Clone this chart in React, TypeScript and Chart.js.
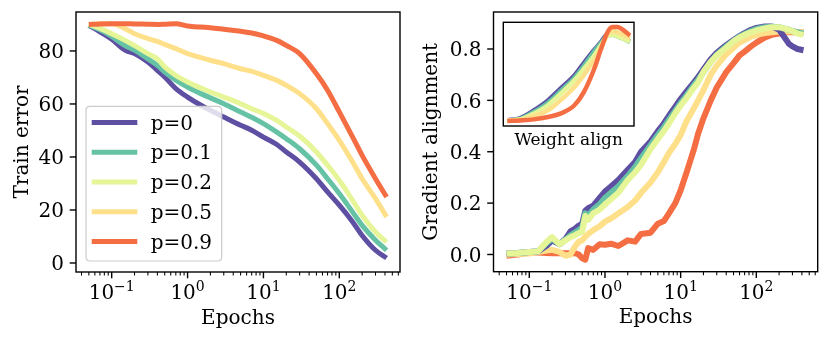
import React, { useEffect, useRef } from "react";
import { Chart, registerables } from "chart.js";

Chart.register(...registerables);

const FONT = "'DejaVu Serif', 'Liberation Serif', serif";
const FS = 20;
const CAPTION_FS = 17;

// ---------- series meta ----------
const seriesLabels = ["p=0", "p=0.1", "p=0.2", "p=0.5", "p=0.9"];
const seriesColors = ["#5e4fa2", "#66c2a5", "#e6f598", "#fee08b", "#f46d43"];

// ---------- left panel: train error ----------
const trainEpochs = [0.05, 0.07, 0.1, 0.15, 0.2, 0.3, 0.4, 0.5, 0.7, 1, 1.5, 2, 3, 5, 7, 10, 15, 20, 30, 50, 70, 100, 150, 200, 300, 420];
const trainP0 = [89.7, 87.2, 84.4, 80.3, 79, 75.8, 72.7, 70.2, 65.8, 62.6, 59.5, 57.6, 55.1, 52, 50.1, 47.5, 44.7, 41.9, 38.1, 31.8, 26.8, 21.8, 15.5, 10.4, 4.8, 1.9];
const trainP01 = [89.7, 88, 85.5, 82, 80.3, 77, 74.6, 72, 69, 66.4, 63.9, 62.3, 60.1, 57, 55, 52.6, 49.4, 46.9, 43.1, 36.9, 31.8, 26.2, 19.2, 14.2, 8.6, 4.8];
const trainP02 = [90, 88.5, 86.5, 84, 82, 79, 77, 74, 70.8, 68.3, 66, 64.5, 62.6, 60.1, 58.2, 56.4, 53.8, 51.3, 47.9, 41.9, 36.9, 31.2, 23.6, 18, 11.7, 7.9];
const trainP05 = [90, 90.3, 90.3, 88.4, 86.5, 84.7, 83.6, 82.5, 80.9, 79, 77.5, 76.5, 75.2, 73.3, 72.3, 70.8, 68.9, 67, 63.9, 58.2, 52.6, 46.3, 38.1, 31.8, 24.3, 17.4];
const trainP09 = [90, 90.2, 90.3, 90.3, 90.2, 90.1, 90, 90.1, 90.3, 89.4, 89, 88.8, 88.2, 87.4, 86.8, 85.7, 84, 82.1, 79, 71.4, 65.2, 57, 47.5, 40.6, 31.8, 24.9];
const trainSeries = [trainP0, trainP01, trainP02, trainP05, trainP09];
const trainYTicks = [0, 20, 40, 60, 80];
const trainYTickLabels = ["0", "20", "40", "60", "80"];

// ---------- right panel: gradient alignment ----------
const alignEpochs = [0.05, 0.07, 0.1, 0.13, 0.17, 0.2, 0.25, 0.3, 0.35, 0.4, 0.45, 0.5, 0.55, 0.6, 0.7, 0.85, 1, 1.2, 1.5, 2, 2.5, 3, 4, 5, 6, 7, 8.5, 10, 12, 15, 17, 20, 25, 30, 40, 50, 60, 70, 85, 100, 130, 160, 200, 230, 270, 300, 350, 420];
const alignP0 = [0.004, 0.006, 0.01, 0.012, 0.035, 0.055, 0.04, 0.06, 0.09, 0.1, 0.112, 0.12, 0.17, 0.18, 0.19, 0.22, 0.245, 0.265, 0.29, 0.33, 0.36, 0.4, 0.44, 0.48, 0.51, 0.54, 0.575, 0.605, 0.635, 0.67, 0.69, 0.72, 0.76, 0.785, 0.815, 0.835, 0.85, 0.862, 0.875, 0.882, 0.888, 0.888, 0.875, 0.85, 0.82, 0.81, 0.8, 0.795];
const alignP01 = [0.004, 0.006, 0.01, 0.012, 0.045, 0.062, 0.04, 0.057, 0.075, 0.085, 0.095, 0.105, 0.16, 0.15, 0.175, 0.195, 0.22, 0.24, 0.265, 0.305, 0.34, 0.375, 0.425, 0.465, 0.495, 0.525, 0.56, 0.59, 0.62, 0.66, 0.68, 0.71, 0.75, 0.778, 0.81, 0.832, 0.848, 0.858, 0.87, 0.878, 0.885, 0.887, 0.885, 0.88, 0.875, 0.87, 0.865, 0.86];
const alignP02 = [0.004, 0.006, 0.01, 0.012, 0.05, 0.068, 0.04, 0.055, 0.067, 0.075, 0.083, 0.09, 0.15, 0.135, 0.16, 0.175, 0.195, 0.215, 0.24, 0.29, 0.32, 0.35, 0.41, 0.45, 0.48, 0.51, 0.55, 0.58, 0.61, 0.65, 0.67, 0.71, 0.75, 0.775, 0.805, 0.83, 0.845, 0.855, 0.865, 0.872, 0.88, 0.885, 0.885, 0.88, 0.875, 0.87, 0.86, 0.855];
const alignP05 = [0.0, 0.002, 0.004, 0.01, 0.015, 0.018, 0.01, -0.005, 0.0, 0.03, 0.05, 0.055, 0.07, 0.08, 0.095, 0.11, 0.128, 0.14, 0.16, 0.185, 0.21, 0.24, 0.28, 0.32, 0.36, 0.395, 0.43, 0.465, 0.52, 0.57, 0.6, 0.64, 0.7, 0.735, 0.78, 0.805, 0.825, 0.835, 0.848, 0.855, 0.862, 0.865, 0.868, 0.868, 0.868, 0.868, 0.866, 0.865];
const alignP09 = [-0.005, 0.0, 0.008, 0.008, 0.006, 0.005, 0.006, 0.005, 0.005, 0.006, 0.0, -0.015, -0.02, 0.025, 0.018, 0.04, 0.038, 0.042, 0.033, 0.055, 0.05, 0.08, 0.085, 0.12, 0.13, 0.16, 0.2, 0.25, 0.32, 0.41, 0.47, 0.53, 0.6, 0.65, 0.71, 0.745, 0.775, 0.79, 0.81, 0.825, 0.845, 0.855, 0.86, 0.865, 0.865, 0.865, 0.865, 0.865];
const alignSeries = [alignP0, alignP01, alignP02, alignP05, alignP09];
const alignYTicks = [0, 0.2, 0.4, 0.6, 0.8];
const alignYTickLabels = ["0.0", "0.2", "0.4", "0.6", "0.8"];

// ---------- inset: weight alignment ----------
const insetEpochs = [0.05, 0.13, 0.35, 1, 2.5, 7, 14, 30, 50, 80, 115, 165, 270, 420];
const insetP0 = [0.054, 0.077, 0.15, 0.247, 0.36, 0.487, 0.607, 0.733, 0.81, 0.885, 0.885, 0.87, 0.845, 0.815];
const insetP01 = [0.054, 0.07, 0.135, 0.225, 0.335, 0.465, 0.58, 0.72, 0.8, 0.875, 0.88, 0.865, 0.84, 0.81];
const insetP02 = [0.054, 0.064, 0.119, 0.2, 0.31, 0.44, 0.55, 0.68, 0.78, 0.87, 0.88, 0.865, 0.84, 0.812];
const insetP05 = [0.054, 0.06, 0.096, 0.15, 0.247, 0.375, 0.49, 0.635, 0.75, 0.888, 0.915, 0.905, 0.875, 0.845];
const insetP09 = [0.048, 0.054, 0.064, 0.087, 0.119, 0.2, 0.327, 0.55, 0.744, 0.904, 0.955, 0.955, 0.92, 0.872];
const insetSeries = [insetP0, insetP01, insetP02, insetP05, insetP09];

// ---------- axis tick labels ----------
const xMajorValues = [0.1, 1, 10, 100];
const xMajorExponents = ["\u22121", "0", "1", "2"];
const xMinorMultipliers = [2, 3, 4, 5, 6, 7, 8, 9];
const xDecades = [0.01, 0.1, 1, 10, 100];

function roundRectPath(ctx: CanvasRenderingContext2D, x: number, y: number, w: number, h: number, r: number) {
  ctx.beginPath();
  ctx.moveTo(x + r, y);
  ctx.lineTo(x + w - r, y);
  ctx.quadraticCurveTo(x + w, y, x + w, y + r);
  ctx.lineTo(x + w, y + h - r);
  ctx.quadraticCurveTo(x + w, y + h, x + w - r, y + h);
  ctx.lineTo(x + r, y + h);
  ctx.quadraticCurveTo(x, y + h, x, y + h - r);
  ctx.lineTo(x, y + r);
  ctx.quadraticCurveTo(x, y, x + r, y);
  ctx.closePath();
}

const decorPlugin = {
  id: "decor",
  afterDraw(chart: any, _args: any, opts: any) {
    const ctx: CanvasRenderingContext2D = chart.ctx;
    const { left, top, right, bottom } = chart.chartArea;
    const xs = chart.scales.x;
    const ys = chart.scales.y;
    ctx.save();

    if (opts.legend) {
      const lx = left + 10;
      const ly = top + 94.3;
      const lw = 135.7;
      const lh = 154.7;
      roundRectPath(ctx, lx, ly, lw, lh, 4);
      ctx.fillStyle = "rgba(255,255,255,0.8)";
      ctx.fill();
      ctx.strokeStyle = "#cccccc";
      ctx.lineWidth = 1.2;
      ctx.stroke();
      ctx.font = `${FS}px ${FONT}`;
      ctx.textAlign = "left";
      ctx.textBaseline = "alphabetic";
      chart.data.datasets.forEach((ds: any, i: number) => {
        const ry = ly + 16.3 + i * 29.75;
        ctx.strokeStyle = ds.borderColor;
        ctx.lineWidth = 5;
        ctx.lineCap = "butt";
        ctx.beginPath();
        ctx.moveTo(lx + 5.7, ry);
        ctx.lineTo(lx + 51.3, ry);
        ctx.stroke();
        ctx.fillStyle = "#000";
        ctx.fillText(ds.label, lx + 64.7, ry + 7);
      });
    }

    ctx.strokeStyle = "#000";
    ctx.lineWidth = 1.4;
    ctx.strokeRect(left, top, right - left, bottom - top);

    if (opts.ticks) {
      ctx.lineCap = "butt";
      xDecades.forEach((d) => {
        [1, ...xMinorMultipliers].forEach((m) => {
          const v = m * d;
          if (v < xs.min || v > xs.max) return;
          const px = xs.getPixelForValue(v);
          const major = m === 1;
          ctx.lineWidth = major ? 1.4 : 1.05;
          ctx.beginPath();
          ctx.moveTo(px, bottom);
          ctx.lineTo(px, bottom + (major ? 6.3 : 3.6));
          ctx.stroke();
        });
      });
      ctx.fillStyle = "#000";
      ctx.textBaseline = "alphabetic";
      ctx.textAlign = "left";
      xMajorValues.forEach((v, i) => {
        const px = xs.getPixelForValue(v);
        ctx.font = `${FS}px ${FONT}`;
        const w1 = ctx.measureText("10").width;
        ctx.font = `${FS * 0.7}px ${FONT}`;
        const w2 = ctx.measureText(xMajorExponents[i]).width;
        const x0 = px - (w1 + w2) / 2;
        ctx.font = `${FS}px ${FONT}`;
        ctx.fillText("10", x0, bottom + 27);
        ctx.font = `${FS * 0.7}px ${FONT}`;
        ctx.fillText(xMajorExponents[i], x0 + w1, bottom + 19);
      });

      ctx.font = `${FS}px ${FONT}`;
      ctx.textAlign = "right";
      opts.yTicks.forEach((v: number, i: number) => {
        const py = ys.getPixelForValue(v);
        ctx.lineWidth = 1.4;
        ctx.beginPath();
        ctx.moveTo(left, py);
        ctx.lineTo(left - 6.3, py);
        ctx.stroke();
        ctx.fillText(opts.yTickLabels[i], left - 12, py + 7.2);
      });

      ctx.textAlign = "center";
      ctx.fillText(opts.xLabel, (left + right) / 2, bottom + 51.5);
      ctx.save();
      ctx.translate(opts.yLabelX, (top + bottom) / 2);
      ctx.rotate(-Math.PI / 2);
      ctx.fillText(opts.yLabel, 0, 0);
      ctx.restore();
    }

    if (opts.caption) {
      ctx.font = `${CAPTION_FS}px ${FONT}`;
      ctx.fillStyle = "#000";
      ctx.textAlign = "center";
      ctx.textBaseline = "alphabetic";
      ctx.fillText(opts.caption, (left + right) / 2, bottom + 19.3);
    }
    ctx.restore();
  },
};

function makeDatasets(epochs: number[], series: number[][], width: number, orders: number[], smooth: boolean) {
  return series.map((vals, i) => ({
    label: seriesLabels[i],
    data: epochs.map((e, j) => ({ x: e, y: vals[j] })),
    borderColor: seriesColors[i],
    backgroundColor: seriesColors[i],
    borderWidth: width,
    pointRadius: 0,
    tension: 0,
    cubicInterpolationMode: smooth ? ("monotone" as const) : ("default" as const),
    fill: false,
    borderJoinStyle: "round" as const,
    borderCapStyle: "butt" as const,
    order: orders[i],
  }));
}

function baseOptions(padding: any, xMin: number, xMax: number, yMin: number, yMax: number, decor: any) {
  return {
    responsive: false,
    animation: false as const,
    events: [] as any[],
    layout: { padding },
    plugins: {
      legend: { display: false },
      tooltip: { enabled: false },
      decor,
    },
    scales: {
      x: { type: "logarithmic" as const, display: false, min: xMin, max: xMax },
      y: { type: "linear" as const, display: false, min: yMin, max: yMax },
    },
  };
}

export default function App() {
  const leftRef = useRef<HTMLCanvasElement>(null);
  const rightRef = useRef<HTMLCanvasElement>(null);
  const insetRef = useRef<HTMLCanvasElement>(null);

  useEffect(() => {
    document.body.style.margin = "0";
    const charts: Chart[] = [];

    charts.push(
      new Chart(leftRef.current!, {
        type: "line",
        data: { datasets: makeDatasets(trainEpochs, trainSeries, 5, [4, 3, 2, 1, 0], true) as any },
        options: baseOptions(
          { left: 76, top: 12, right: 15, bottom: 70 },
          Math.pow(10, -1.4705),
          Math.pow(10, 2.8),
          -3.4,
          94.7,
          {
            ticks: true,
            legend: true,
            yTicks: trainYTicks,
            yTickLabels: trainYTickLabels,
            xLabel: "Epochs",
            yLabel: "Train error",
            yLabelX: 28,
          }
        ) as any,
        plugins: [decorPlugin],
      })
    );

    charts.push(
      new Chart(rightRef.current!, {
        type: "line",
        data: { datasets: makeDatasets(alignEpochs, alignSeries, 6, [2, 1, 0, 3, 4], false) as any },
        options: baseOptions(
          { left: 78.5, top: 12, right: 12.3, bottom: 70.3 },
          Math.pow(10, -1.473),
          Math.pow(10, 2.811),
          -0.067,
          0.944,
          {
            ticks: true,
            legend: false,
            yTicks: alignYTicks,
            yTickLabels: alignYTickLabels,
            xLabel: "Epochs",
            yLabel: "Gradient alignment",
            yLabelX: 437 - 415,
          }
        ) as any,
        plugins: [decorPlugin],
      })
    );

    charts.push(
      new Chart(insetRef.current!, {
        type: "line",
        data: { datasets: makeDatasets(insetEpochs, insetSeries, 4.5, [4, 3, 2, 1, 0], true) as any },
        options: baseOptions(
          { left: 5.3, top: 4.3, right: 6, bottom: 27 },
          Math.pow(10, -1.429),
          Math.pow(10, 2.751),
          0,
          1,
          { ticks: false, legend: false, caption: "Weight align" }
        ) as any,
        plugins: [decorPlugin],
      })
    );

    return () => charts.forEach((c) => c.destroy());
  }, []);

  return (
    <div style={{ position: "fixed", left: 0, top: 0, width: 830, height: 342, background: "#fff", overflow: "hidden" }}>
      <canvas ref={leftRef} width={415} height={342} style={{ position: "absolute", left: 0, top: 0 }} />
      <canvas ref={rightRef} width={415} height={342} style={{ position: "absolute", left: 415, top: 0 }} />
      <canvas ref={insetRef} width={142} height={135} style={{ position: "absolute", left: 498, top: 18 }} />
    </div>
  );
}
